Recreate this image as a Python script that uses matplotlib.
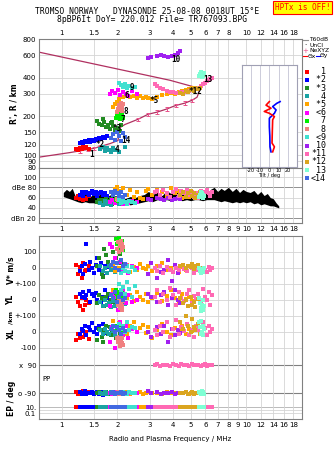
import numpy as np
import matplotlib
matplotlib.use('Agg')
from matplotlib import pyplot as plt

W, H = 335, 451

# ---------------- data ----------------
names = ['1', '*2', '*3', '4', '*5', '<6', '7', '8', '<9', '10', '*11', '*12', '13', '<14']
colors = ['#ff0000', '#0000ff', '#228b22', '#1aa3a3', '#ffa500', '#ff00ff', '#00ee00',
          '#f08080', '#40e0d0', '#a020f0', '#ff69b4', '#daa520', '#7fffd4', '#4169e1']

freq = [
    [1.20, 1.22, 1.25, 1.28, 1.30, 1.33, 1.36, 1.40],
    [1.25, 1.28, 1.30, 1.33, 1.36, 1.40, 1.43, 1.46, 1.50, 1.53, 1.56, 1.60, 1.64, 1.68, 1.72, 1.76],
    [1.55, 1.60, 1.65, 1.70, 1.74, 1.78, 1.82, 1.86, 1.90, 1.94, 1.98, 2.02, 2.06, 2.10, 1.68, 1.88],
    [1.62, 1.68, 1.72, 1.76, 1.80, 1.85, 1.90, 1.95, 2.05, 2.20],
    [1.90, 1.95, 2.00, 2.05, 2.15, 2.25, 2.35, 2.45, 2.55, 2.65, 2.75, 2.85, 2.95, 3.10, 3.30, 3.50,
     3.70, 3.90, 4.10, 4.30, 4.50, 4.70, 4.90, 5.10],
    [1.82, 1.88, 1.95, 2.02, 2.08, 2.15, 2.22, 2.30, 2.40, 2.55],
    [1.98, 2.00, 2.03, 2.05, 2.07, 2.10, 2.12, 2.15],
    [2.00, 2.02, 2.05, 2.07, 2.09, 2.11, 2.13, 2.16],
    [2.05, 2.10, 2.15, 2.20, 2.26, 2.32, 2.40, 2.48],
    [2.95, 3.05, 3.30, 3.45, 3.60, 3.75, 3.95, 4.10, 4.25, 4.40],
    [3.20, 3.30, 3.40, 3.55, 3.70, 3.85, 4.00, 4.15, 4.30, 4.45, 4.60, 4.75, 4.90, 5.05, 5.20, 5.35,
     5.50, 5.65, 5.80, 5.95, 6.10, 6.25, 6.40, 6.55],
    [4.40, 4.55, 4.70, 4.85, 5.00, 5.10, 5.20, 5.30, 5.45, 5.60],
    [5.55, 5.60, 5.65, 5.70, 5.75, 5.80, 5.85, 5.90],
    [1.85, 1.90, 1.95, 2.00, 2.05, 2.10, 2.15, 2.20],
]
height = [
    [112, 110, 114, 111, 115, 113, 116, 112],
    [125, 127, 124, 128, 126, 130, 127, 132, 129, 134, 131, 136, 133, 138, 135, 140],
    [185, 175, 170, 180, 165, 172, 160, 178, 168, 158, 150, 162, 155, 170, 190, 182],
    [112, 116, 108, 114, 110, 106, 113, 109, 105, 115],
    [235, 250, 260, 275, 285, 290, 282, 288, 280, 286, 278, 284, 276, 272, 285, 292,
     298, 305, 300, 310, 315, 320, 325, 330],
    [300, 315, 305, 320, 295, 310, 300, 290, 315, 300],
    [195, 205, 200, 210, 190, 198, 207, 193],
    [215, 230, 245, 225, 255, 238, 220, 250],
    [365, 350, 340, 355, 335, 345, 330, 340],
    [565, 575, 590, 600, 585, 580, 595, 605, 620, 640],
    [355, 345, 335, 325, 318, 312, 308, 305, 306, 308, 310, 314, 318, 320, 325, 330,
     335, 345, 355, 365, 375, 385, 390, 395],
    [305, 300, 315, 310, 320, 325, 318, 330, 328, 335],
    [410, 430, 420, 440, 405, 425, 415, 435],
    [135, 145, 130, 150, 140, 128, 148, 138],
]
amp = [
    [60, 64, 57, 62, 56, 60, 58, 63],
    [66, 70, 64, 68, 71, 65, 69, 72, 67, 70, 63, 68, 71, 66, 69, 64],
    [52, 56, 50, 54, 58, 49, 53, 57, 51, 55, 60, 50, 54, 52, 56, 48],
    [50, 46, 53, 48, 51, 45, 49, 52, 47, 50],
    [70, 76, 80, 72, 78, 66, 74, 62, 70, 60, 58, 72, 76, 66, 74, 70, 64, 78, 68, 72, 60, 66, 62, 70],
    [52, 56, 50, 54, 55, 48, 52, 50, 54, 51],
    [56, 58, 54, 57, 59, 55, 53, 58],
    [58, 56, 60, 55, 57, 59, 54, 61],
    [55, 50, 57, 52, 48, 54, 51, 49],
    [58, 56, 60, 57, 55, 59, 56, 58, 60, 57],
    [70, 72, 66, 74, 68, 62, 70, 76, 64, 72, 68, 74, 66, 70, 62, 68, 60, 72, 66, 70, 74, 68, 64, 70],
    [66, 70, 62, 68, 72, 64, 68, 60, 66, 70],
    [62, 66, 70, 64, 68, 60, 66, 63],
    [70, 66, 72, 68, 64, 70, 62, 66],
]
vstar = [
    [20, -40, 5, -60, 30, -20, -10, 10],
    [-20, 10, -40, 25, 150, -10, 40, 0, -30, 20, 60, -15, 30, -50, 10, 5],
    [10, 60, -40, 120, 80, 40, 150, 20, 100, -20, 60, 180, 90, 30, -55, 130],
    [10, -20, 0, -30, 15, -10, 5, -25, -5, 20],
    [10, -20, 30, 0, -10, 20, -25, 5, -15, 25, 0, -5, 15, -20, 10, 30, -10, 0, 20, -25, 5, -15, 10, 0],
    [150, 130, 60, 170, 40, -10, 20, -30, 10, 0],
    [180, 150, 120, 190, 100, 140, 170, 110],
    [120, 160, 100, 140, 170, 110, 150, 130],
    [-10, -30, 0, -20, 10, -25, 5, -15],
    [-40, 30, -60, -23, -10, 50, -80, 20, -30, 10],
    [0, -20, 10, -30, 5, -10, -25, 0, -15, 15, -5, -20, 10, 0, -30, -10, 5, -20, 0, -10, -25, 5, -15, 0],
    [10, 20, 0, 15, 5, 25, -5, 10, 20, 0],
    [0, -20, -10, -30, -5, -25, -15, 0],
    [20, 40, 0, 30, -10, 50, 10, 25],
]
yl_km = [
    [20, -10, -40, 10, -60, -30, 0, -20],
    [40, 20, 50, 10, 30, 55, -10, 35, 25, 45, 0, 30, -10, 20, 60, 15],
    [-20, 30, 10, -40, 20, 40, -10, 0, 35, -30, 15, 45, -50, 25, 5, -15],
    [-10, -40, 0, -30, -20, -45, -5, -35, -15, -25],
    [60, 20, -10, 40, 75, 10, 30, -5, 50, 20, 0, 35, -10, 15, 45, -5, 25, 60, 10, -10, 35, 5, 20, -5],
    [-40, 40, 20, -60, 10, 60, -20, 30, -10, 0],
    [60, 40, 20, 50, 30, 10, 45, 35],
    [-10, -30, 0, -50, -20, -60, -40, -5],
    [100, 60, 80, 40, 110, 70, 20, 90],
    [40, 20, -10, 30, 50, -30, 10, 60, 0, -20],
    [20, 60, -10, 40, 0, 75, 30, -30, 50, 10, -5, 35, 60, -20, 25, 5, 40, -10, 70, 20, 0, 50, -30, 30],
    [10, -20, 0, -40, 19, -30, -10, -44, 5, -20],
    [10, -20, -50, -70, -30, -60, 0, -40],
    [30, 10, 50, -10, 20, 40, 0, 15],
]
xl_km = [
    [-50, -10, -40, 10, -30, -20, 0, -45],
    [-10, 20, 5, 40, -20, 30, 10, 55, 0, 25, -15, 35, 10, 50, 20, -5],
    [-50, 20, -30, 10, 40, -10, 30, -20, 5, 35, -40, 25, -5, 15, -60, 0],
    [10, -15, 20, 0, -10, 25, 5, -20, 15, 0],
    [70, 40, 10, 55, 20, -10, 35, 60, 0, 25, 45, -5, 30, -40, 15, 50, 0, -20, 25, 10, 40, -10, 20, 5],
    [-60, 30, -100, 10, 60, -20, 40, -40, 20, 0],
    [40, 20, 10, 50, 30, 0, 25, 15],
    [-40, -60, -30, -90, -50, -70, -35, -80],
    [50, 20, 40, 0, 60, 10, 30, 25],
    [0, -30, 30, -10, 40, -60, 20, -20, 10, -5],
    [10, -20, 40, 0, 60, -30, 20, 75, -10, 30, 5, 50, -20, 15, -30, 40, 10, -10, 60, 25, -20, 40, 0, 20],
    [60, 20, 100, 40, 0, 80, 30, 10, 50, -10],
    [60, 30, -10, 70, 0, 40, -20, 20],
    [20, 40, 0, 30, 10, -10, 25, 5],
]
pp_deg = [
    [-85, -95, -88, -92, -80, -97, -90, -86],
    [-85, -95, -90, -80, -98, -88, -92, -84, -96, -90, -86, -94, -82, -100, -90, -88],
    [-92, -86, -95, -88, -82, -98, -90, -85, -94, -88, -92, -84, -96, -90, -88, -93],
    [-88, -94, -84, -96, -90, -86, -92, -88, -95, -90],
    [-85, -92, -88, -96, -90, -84, -94, -88, -92, -86, -98, -90, -86, -92, -88, -95, -84, -90, -93, -87,
     -91, -85, -94, -89],
    [-88, -95, -84, -92, -90, -86, -94, -90, -88, -92],
    [-88, -92, -86, -94, -90, -84, -96, -90],
    [-90, -86, -94, -88, -92, -84, -96, -90],
    [-88, -92, -84, -90, -94, -86, -90, -88],
    [-80, -92, -86, -94, -88, -90, -84, -96, -90, -88],
    [88, 95, 85, 92, 90, 84, 96, 90, 86, 94, 88, 92, 85, 95, 90, 88, 93, 86, 91, 96, 84, 90, 92, 88],
    [-88, -92, -85, -95, -90, -86, -94, -88, -92, -90],
    [-84, -92, -88, -96, -80, -90, -86, -94],
    [-90, -86, -94, -88, -92, -84, -96, -90],
]
ep_deg = [
    [10, 11, 9, 10, 12, 10, 11, 9],
    [10, 9, 11, 10, 10, 12, 9, 10, 11, 10, 9, 10, 12, 10, 9, 11],
    [9, 11, 10, 12, 9, 10, 11, 8, 10, 12, 9, 11, 10, 9, 11, 10],
    [11, 9, 10, 12, 10, 9, 11, 10, 8, 10],
    [10, 12, 9, 11, 10, 8, 12, 10, 9, 11, 10, 13, 9, 10, 12, 8, 10, 11, 9, 12, 10, 9, 11, 10],
    [12, 10, 14, 9, 11, 10, 12, 9, 11, 10],
    [10, 11, 9, 12, 10, 9, 11, 10],
    [11, 9, 10, 12, 10, 11, 9, 10],
    [10, 12, 9, 11, 10, 13, 9, 10],
    [11, 9, 10, 12, 9, 10, 11, 10, 9, 12],
    [10, 12, 9, 11, 10, 13, 9, 10, 12, 10, 9, 11, 10, 12, 9, 10, 11, 9, 12, 10, 11, 9, 10, 12],
    [10, 11, 9, 12, 10, 11, 9, 10, 12, 10],
    [8, 10, 7, 9, 11, 8, 10, 9],
    [10, 11, 9, 12, 10, 9, 11, 10],
]

# model profiles (R' and R)
upper_f = [0.75, 3.86, 5.30]
upper_h = [633, 382, 337]
true_f = [0.753, 1.11, 1.48, 1.83, 2.02, 2.04, 2.07, 2.20, 2.59, 2.94, 3.29, 3.69, 4.14, 4.66, 5.08, 5.41, 5.54, 5.57]
true_h = [96.4, 104.7, 112.5, 123, 130, 147, 164, 173, 190, 208, 216, 228, 243, 254, 267, 282, 308, 325]
nexyz_f = [1.25, 1.38, 1.50, 1.62, 2.60, 2.95, 3.30, 3.70, 4.15, 4.65, 5.10]
nexyz_h = [107, 110, 113, 116, 190, 208, 216, 228, 243, 254, 267]

# echo amplitude envelope (dBe)
band_f = [1.02, 1.06, 1.10, 1.14, 1.18, 1.22, 1.28, 1.34, 1.40, 1.48, 1.56, 1.65, 1.75, 1.85, 1.95,
          2.05, 2.2, 2.35, 2.5, 2.65, 2.8, 2.95, 3.1, 3.3, 3.5, 3.7, 3.9, 4.1, 4.3, 4.5, 4.75, 5.0,
          5.25, 5.5, 5.8, 6.1, 6.4, 6.7, 7.0, 7.3, 7.6, 8.0, 8.4, 8.8, 9.2, 9.6, 10.0, 10.5, 11.0,
          11.5, 12.0, 12.5, 13.0, 13.5, 14.0, 14.5, 15.0]
band_hi = [70, 76, 72, 78, 64, 66, 62, 68, 60, 66, 64, 68, 62, 66, 60, 64, 58, 62, 60, 64, 66, 72,
           66, 70, 64, 74, 68, 80, 70, 76, 68, 74, 66, 70, 72, 68, 76, 80, 72, 78, 74, 80, 72, 78,
           70, 76, 72, 70, 74, 66, 72, 64, 68, 60, 58, 50, 44]
band_lo = [62, 60, 58, 56, 54, 52, 50, 52, 50, 50, 48, 50, 48, 50, 48, 48, 48, 46, 48, 50, 52, 54,
           52, 56, 54, 56, 54, 56, 56, 54, 56, 54, 56, 56, 54, 56, 56, 56, 54, 52, 54, 52, 50, 52,
           50, 52, 50, 52, 48, 50, 46, 48, 46, 44, 44, 42, 40]

# tilt profiles
tilt_x_h = [259, 243, 230, 217, 210, 198, 187, 150, 123, 115, 105]
tilt_x = [0, -3.6, 1.8, -5.5, 0, 5.5, 3.6, 3.2, 2.9, 5.5, 3.6]
tilt_y_h = [259, 251, 237, 223, 210, 192, 165, 140, 115, 105]
tilt_y = [11.7, 8, 3.6, 7.3, 5.5, 0, 0, 0.5, 0.7, 1.8]

top_ticks = [1, 1.5, 2, 3, 4, 5, 6, 7, 8, 10, 12, 14, 16, 18]
bot_ticks = [1, 1.5, 2, 3, 4, 5, 6, 7, 8, 9, 10, 12, 14, 16, 18]
h_ticks = [800, 600, 400, 300, 200, 150, 120, 100, 90, 80]

# ---------------- figure ----------------
plt.rcParams['font.family'] = 'DejaVu Sans'
fig = plt.figure(figsize=(W / 100, H / 100), dpi=100)

def px_axes(x0, y0, x1, y1):
    return fig.add_axes([x0 / W, 1 - y1 / H, (x1 - x0) / W, (y1 - y0) / H])

def style(ax):
    for s in ax.spines.values():
        s.set_color('#808080')
        s.set_linewidth(0.8)
    ax.tick_params(length=0, labelsize=5, pad=2)
    ax.set_xscale('log')
    ax.set_xlim(0.753, 20.05)
    ax.minorticks_off()

grid_c = '#d4d4d4'
SQ = dict(marker='s', s=5.5, linewidths=0)

# top panel: virtual height
ax1 = px_axes(39, 39, 302, 168)
style(ax1)
ax1.set_yscale('log')
ax1.set_ylim(79.4, 800)
ax1.minorticks_off()
ax1.set_yticks(h_ticks, [str(t) for t in h_ticks])
ax1.xaxis.tick_top()
ax1.set_xticks(top_ticks, ['%g' % t for t in top_ticks])
ax1.tick_params(length=0, labelsize=5, pad=2)
ax1.grid(True, color=grid_c, lw=0.6)
ax1.set_axisbelow(True)
ax1.plot(upper_f, upper_h, color='#b03060', lw=0.9)
ax1.plot(true_f, true_h, color='#b03060', lw=0.9)
ax1.errorbar(nexyz_f, nexyz_h, yerr=[[h * 0.03 for h in nexyz_h], [h * 0.03 for h in nexyz_h]],
             fmt='none', ecolor='#e8508a', elinewidth=0.7, capsize=1.2, capthick=0.7)
for i in range(len(names)):
    ax1.scatter(freq[i], height[i], color=colors[i], zorder=3, **SQ)
ax1.set_ylabel("R', R / km", fontsize=5.5, fontweight='bold', labelpad=3)

lab_pos = {'1': (1.45, 101), '*2': (1.61, 121), '*3': (2.0, 160), '4': (2.0, 111),
           '*5': (3.16, 264), '<6': (2.24, 290), '7': (2.14, 189), '8': (2.22, 218),
           '<9': (2.39, 338), '10': (4.16, 551), '*12': (5.28, 313), '13': (6.2, 387),
           '<14': (2.23, 130)}
for t, (fx, hy) in lab_pos.items():
    ax1.text(fx, hy, t.replace('<', ''), fontsize=5.5, ha='center', va='center',
             family='DejaVu Sans Mono', fontweight='bold', zorder=5)

# tilt inset
axt = px_axes(241.7, 65, 297, 167)
axt.set_facecolor('white')
axt.set_zorder(4)
for s in axt.spines.values():
    s.set_color('#a0a0b4')
    s.set_linewidth(0.8)
axt.set_xlim(-30, 30)
axt.set_yscale('log')
axt.set_ylim(80, 500)
axt.set_yticks([])
axt.minorticks_off()
axt.set_xticks([-20, -10, 0, 10, 20], ['-20', '-10', '0', '10', '20'])
axt.tick_params(length=0, labelsize=3.6, pad=0.8)
axt.set_xlabel('Tilt / deg', fontsize=3.6, labelpad=0)
for v in [-20, -10, 0, 10, 20]:
    axt.axvline(v, color='#c4c4d4', lw=0.6)
axt.plot(tilt_y, tilt_y_h, color='#0000ff', lw=1.2)
axt.plot(tilt_x, tilt_x_h, color='#ff0000', lw=1.2)

# amplitude panel
ax2 = px_axes(39, 168, 302, 223)
style(ax2)
ax2.set_ylim(10.7, 117.5)
ax2.set_yticks([100, 80, 60, 40, 20], ['100', 'dBe 80', '60', '40', 'dBn 20'])
ax2.set_xticks(bot_ticks, ['%g' % t for t in bot_ticks])
ax2.tick_params(length=0, labelsize=5, pad=2)
ax2.grid(True, axis='x', color=grid_c, lw=0.6)
for v in [100, 60, 40]:
    ax2.axhline(v, color=grid_c, lw=0.6, zorder=0)
for v in [80, 20]:
    ax2.axhline(v, color='#909090', lw=0.7, zorder=0)
ax2.fill_between(band_f, band_lo, band_hi, color='black', lw=0, zorder=2)
for i in range(len(names)):
    ax2.scatter(freq[i], amp[i], color=colors[i], zorder=3, **SQ)

# drift / location / polarization panel
VS0, YL0, XL0, K = 151, 119, 87, 0.16
PP0, PPK = 40, 14 / 90
ax3 = px_axes(39, 236, 302, 419)
style(ax3)
ax3.set_ylim(0, 183)
yt = [167, 151, 135, 119, 103, 87, 71, 54, 26, 12, 6]
ax3.set_yticks(yt, ['100', '0', '+-100', '0', '+-100', '0', '-100', 'x  90', 'o -90', '10.', '0.1'])
ax3.set_xticks(bot_ticks, ['%g' % t for t in bot_ticks])
ax3.tick_params(length=0, labelsize=5, pad=2)
ax3.grid(True, axis='x', color=grid_c, lw=0.6)
for v in [167, 151, 135, 119, 103, 87, 71, 9, 6]:
    ax3.axhline(v, color=grid_c, lw=0.6, zorder=0)
for v in [54, 26]:
    ax3.axhline(v, color='#808080', lw=0.8, zorder=0)
ax3.axhline(12, color='#b0b0b0', lw=0.6, zorder=0)
for i in range(len(names)):
    f = freq[i]
    ax3.scatter(f, VS0 + K * np.array(vstar[i]), color=colors[i], zorder=3, **SQ)
    ax3.scatter(f, YL0 + K * np.array(yl_km[i]), color=colors[i], zorder=3, **SQ)
    ax3.scatter(f, XL0 + K * np.array(xl_km[i]), color=colors[i], zorder=3, **SQ)
    ax3.scatter(f, PP0 + PPK * np.array(pp_deg[i]), color=colors[i], zorder=3, **SQ)
    ax3.scatter(f, 9 + 3 * np.log10(ep_deg[i]), color=colors[i], zorder=3, **SQ)
ax3.text(0.79, 40, 'PP', fontsize=5, ha='left', va='center')
ax3.set_xlabel('Radio and Plasma Frequency / MHz', fontsize=5, labelpad=6)

# rotated side labels
for txt, yy, fs in [('V* m/s', 270, 5.5), ('YL', 300, 5.5), ('/km', 318, 4.5),
                    ('XL', 334, 5.5), ('EP / deg', 398, 5.5)]:
    fig.text(11 / W, 1 - yy / H, txt, rotation=90, ha='center', va='center',
             fontsize=fs, fontweight='bold')

# legend column
lg = px_axes(302, 30, 335, 190)
lg.set_xlim(302, 335)
lg.set_ylim(190, 30)
lg.axis('off')
lg.plot([303, 308], [40, 40], color='#909090', lw=0.8)
lg.text(309, 40, 'T60dB', fontsize=4.3, va='center')
lg.text(305, 45.5, '·', fontsize=5, va='center', ha='center')
lg.text(309, 45.5, 'UnCl', fontsize=4.3, va='center')
lg.text(305, 50.7, '+', fontsize=5, va='center', ha='center', color='#e8508a')
lg.text(309, 50.7, 'NeXYZ', fontsize=4.3, va='center')
lg.plot([303, 307], [56, 56], color='#ff0000', lw=0.8)
lg.text(307.5, 56, 'Θx', fontsize=4.3, va='center')
lg.plot([315.5, 319.5], [56, 56], color='#0000ff', lw=0.8)
lg.text(320, 56, 'Θy', fontsize=4.3, va='center')
for i, (n, c) in enumerate(zip(names, colors)):
    yy = 71.7 + 8.2 * i
    lg.scatter([306.7], [yy], color=c, marker='s', s=5, linewidths=0)
    lg.text(311, yy, n.rjust(3), fontsize=6, va='center', family='DejaVu Sans Mono')

# header
fig.text(35 / W, 1 - 12 / H, 'TROMSO NORWAY   DYNASONDE 25-08-08 0018UT 15°E',
         fontsize=5.8, family='DejaVu Sans Mono', va='center')
fig.text(57 / W, 1 - 20 / H, '8pBP6It DoY= 220.012 File= TR767093.BPG',
         fontsize=5.8, family='DejaVu Sans Mono', va='center')
fig.text(302.5 / W, 1 - 7.5 / H, 'HPTx is OFF!', fontsize=5.6, family='DejaVu Sans Mono',
         color='#ff0000', ha='center', va='center',
         bbox=dict(boxstyle='square,pad=0.25', facecolor='#ffff00', edgecolor='#ff0000', lw=0.8))

fig.savefig('out.png', dpi=100)
